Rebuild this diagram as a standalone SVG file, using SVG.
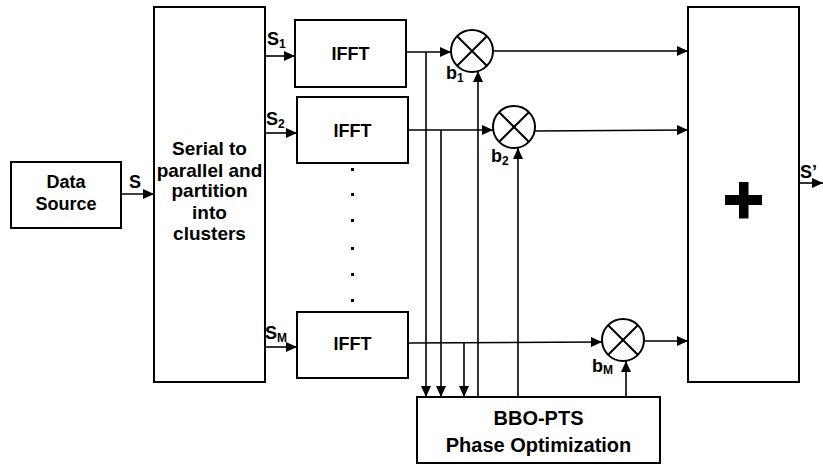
<svg xmlns="http://www.w3.org/2000/svg" width="823" height="465" viewBox="0 0 823 465">
<style>
.box{fill:#fff;stroke:#000;stroke-width:2}
.ln{fill:none;stroke:#000;stroke-width:1.6}
.ar{fill:none;stroke:#000;stroke-width:1.6;marker-end:url(#ah)}
text{font-family:"Liberation Sans",Arial,Helvetica,sans-serif;font-weight:bold;fill:#000}
.lbl{font-size:18px;text-anchor:middle}
.lbl19{font-size:19px;text-anchor:middle}
.big{font-size:20px;text-anchor:middle}
.sig{font-size:18px}
.sub{font-size:12px}
.mul circle{fill:#fff;stroke:#000;stroke-width:2}
.mul line{stroke:#000;stroke-width:2}
</style>
<defs>
<marker id="ah" markerUnits="userSpaceOnUse" markerWidth="11" markerHeight="10" refX="11" refY="5" orient="auto">
<path d="M0,0 L11,5 L0,10 z" fill="#000"/>
</marker>
</defs>
<g id="connectors">
<line class="ar" x1="121" y1="194" x2="154" y2="194"/>
<line class="ar" x1="265" y1="56" x2="295" y2="56"/>
<line class="ar" x1="265" y1="133" x2="297" y2="133"/>
<line class="ar" x1="265" y1="347" x2="297" y2="347"/>
<line class="ar" x1="406" y1="52" x2="451" y2="52"/>
<line class="ar" x1="408" y1="130" x2="493" y2="130"/>
<line class="ar" x1="408" y1="343" x2="602" y2="342"/>
<line class="ar" x1="426" y1="52" x2="426" y2="397"/>
<line class="ar" x1="441" y1="130" x2="441" y2="397"/>
<line class="ar" x1="464" y1="343" x2="464" y2="397"/>
<line class="ar" x1="478" y1="397" x2="478" y2="71"/>
<line class="ar" x1="518" y1="397" x2="518" y2="148"/>
<line class="ar" x1="626" y1="397" x2="626" y2="361"/>
<line class="ar" x1="493" y1="51" x2="688" y2="51"/>
<line class="ar" x1="535" y1="131" x2="688" y2="130"/>
<line class="ar" x1="645" y1="341" x2="688" y2="341"/>
<line class="ar" x1="799" y1="183" x2="823" y2="183"/>
<text class="sig" x="129" y="188">S</text>
<text class="sig" x="267" y="45">S<tspan class="sub" dy="3">1</tspan></text>
<text class="sig" x="266" y="125">S<tspan class="sub" dy="3">2</tspan></text>
<text class="sig" x="265" y="339">S<tspan class="sub" dy="3">M</tspan></text>
<text class="sig" x="446" y="79">b<tspan class="sub" dy="3">1</tspan></text>
<text class="sig" x="491" y="162">b<tspan class="sub" dy="3">2</tspan></text>
<text class="sig" x="592" y="372">b<tspan class="sub" dy="2">M</tspan></text>
<text class="sig" x="800" y="178">S’</text>
</g>
<g id="data-source">
<rect class="box" x="11" y="162" width="110" height="66"/>
<text class="lbl" x="66" y="188">Data</text>
<text class="lbl" x="66" y="210">Source</text>
</g>
<g id="serial-to-parallel">
<rect class="box" x="154" y="7" width="111" height="375"/>
<text class="lbl19" x="209.5" y="155">Serial to</text>
<text class="lbl19" x="209.5" y="176.5">parallel and</text>
<text class="lbl19" x="209.5" y="197">partition</text>
<text class="lbl19" x="209.5" y="218.5">into</text>
<text class="lbl19" x="209.5" y="240">clusters</text>
</g>
<g id="ifft1">
<rect class="box" x="295" y="20" width="111" height="67"/>
<text class="lbl" x="350.5" y="59.5">IFFT</text>
</g>
<g id="ifft2">
<rect class="box" x="297" y="97" width="111" height="66"/>
<text class="lbl" x="352.5" y="137">IFFT</text>
</g>
<g id="dots">
<rect x="351" y="168" width="3" height="3"/>
<rect x="351" y="193" width="3" height="3"/>
<rect x="351" y="219" width="3" height="3"/>
<rect x="351" y="247" width="3" height="3"/>
<rect x="351" y="273" width="3" height="3"/>
<rect x="351" y="299" width="3" height="3"/>
</g>
<g id="ifftM">
<rect class="box" x="297" y="312" width="111" height="66"/>
<text class="lbl" x="352.5" y="350">IFFT</text>
</g>
<g id="mult1" class="mul">
<circle cx="472" cy="51" r="21"/>
<line x1="457.2" y1="36.2" x2="486.8" y2="65.8"/>
<line x1="486.8" y1="36.2" x2="457.2" y2="65.8"/>
</g>
<g id="mult2" class="mul">
<circle cx="514" cy="127" r="21"/>
<line x1="499.2" y1="112.2" x2="528.8" y2="141.8"/>
<line x1="528.8" y1="112.2" x2="499.2" y2="141.8"/>
</g>
<g id="multM" class="mul">
<circle cx="623" cy="340" r="21"/>
<line x1="608.2" y1="325.2" x2="637.8" y2="354.8"/>
<line x1="637.8" y1="325.2" x2="608.2" y2="354.8"/>
</g>
<g id="bbo-pts">
<rect class="box" x="417" y="397" width="243" height="66"/>
<text class="big" x="538.5" y="425">BBO-PTS</text>
<text class="big" x="538.5" y="451.5">Phase Optimization</text>
</g>
<g id="adder">
<rect class="box" x="688" y="7" width="111" height="375"/>
<rect x="725" y="195" width="37" height="10"/>
<rect x="739" y="182" width="9.5" height="36.5"/>
</g>
</svg>
